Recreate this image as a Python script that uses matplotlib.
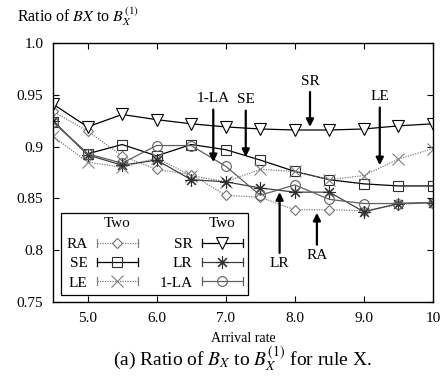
import numpy as np
import matplotlib
matplotlib.use('Agg')
from matplotlib import pyplot as plt
from matplotlib.lines import Line2D
from matplotlib.text import Text
from matplotlib.legend_handler import HandlerLine2D, HandlerBase

plt.rcParams['font.family'] = 'Liberation Serif'
plt.rcParams['mathtext.fontset'] = 'stix'

# arrival rates and ratio for each rule
rate = [4.5, 5.0, 5.5, 6.0, 6.5, 7.0, 7.5, 8.0, 8.5, 9.0, 9.5, 10.0]
ra  = [0.934, 0.915, 0.891, 0.878, 0.873, 0.853, 0.851, 0.839, 0.839, 0.838, 0.844, 0.846]
se  = [0.924, 0.893, 0.902, 0.891, 0.902, 0.897, 0.887, 0.876, 0.868, 0.864, 0.862, 0.862]
le  = [0.910, 0.885, 0.880, 0.889, 0.872, 0.866, 0.878, 0.876, 0.868, 0.872, 0.888, 0.898]
sr  = [0.941, 0.919, 0.931, 0.926, 0.922, 0.919, 0.917, 0.916, 0.916, 0.917, 0.920, 0.922]
lr  = [0.925, 0.892, 0.882, 0.887, 0.868, 0.866, 0.860, 0.856, 0.856, 0.837, 0.845, 0.846]
la1 = [0.924, 0.893, 0.884, 0.901, 0.901, 0.881, 0.853, 0.863, 0.849, 0.845, 0.845, 0.846]

xticks = [5.0, 6.0, 7.0, 8.0, 9.0, 10.0]
xticklabels = ['5.0', '6.0', '7.0', '8.0', '9.0', '10']
yticks = [0.75, 0.8, 0.85, 0.9, 0.95, 1.0]
yticklabels = ['0.75', '0.8', '0.85', '0.9', '0.95', '1.0']

# (label, text position, arrow tip)
notes = [('1-LA', (6.82, 0.946), (6.82, 0.885)),
         ('SE',   (7.29, 0.945), (7.29, 0.890)),
         ('SR',   (8.22, 0.963), (8.22, 0.919)),
         ('LE',   (9.23, 0.948), (9.23, 0.882)),
         ('LR',   (7.78, 0.787), (7.78, 0.856)),
         ('RA',   (8.32, 0.795), (8.32, 0.836))]


class CapHandler(HandlerLine2D):
    # legend line with small end caps, like an x error bar
    def create_artists(self, legend, orig_handle, xdescent, ydescent,
                       width, height, fontsize, trans):
        arts = super().create_artists(legend, orig_handle, xdescent, ydescent,
                                      width, height, fontsize, trans)
        y = height / 2 - ydescent
        for xx in (-xdescent, width - xdescent):
            cap = Line2D([xx, xx], [y - height * 0.35, y + height * 0.35],
                         color=orig_handle.get_color(), lw=0.9)
            cap.set_transform(trans)
            arts.append(cap)
        return arts


class Header(object):
    pass


class HeaderHandler(HandlerBase):
    def create_artists(self, legend, orig_handle, xdescent, ydescent,
                       width, height, fontsize, trans):
        t = Text(width / 2 - xdescent, height / 2 - ydescent, 'Two',
                 ha='center', va='center', fontsize=fontsize)
        t.set_transform(trans)
        return [t]


fig = plt.figure(figsize=(4.4, 3.76), dpi=100)
ax = fig.add_axes([0.1205, 0.197, 0.8635, 0.6886])

l_ra, = ax.plot(rate, ra, color='#808080', ls=(0, (1, 1)), lw=0.9, marker='D',
                ms=5.5, mfc='white', mec='#707070', mew=0.8)
l_se, = ax.plot(rate, se, color='black', lw=0.9, marker='s',
                ms=7, mfc='none', mec='#303030', mew=0.8)
l_le, = ax.plot(rate, le, color='#808080', ls=(0, (1, 1)), lw=0.9, marker='x',
                ms=8, mec='#808080', mew=0.8)
l_sr, = ax.plot(rate, sr, color='black', lw=0.9, marker='v',
                ms=9, mfc='white', mec='black', mew=0.8)
l_lr, = ax.plot(rate, lr, color='#404040', lw=0.9, marker=(8, 2, 0),
                ms=9, mec='#303030', mew=0.8)
l_la, = ax.plot(rate, la1, color='#606060', lw=0.9, marker='o',
                ms=7, mfc='none', mec='#606060', mew=0.8)

for txt, xy_t, xy_a in notes:
    ax.annotate(txt, xy=xy_a, xytext=xy_t, ha='center', va='center', fontsize=11,
                arrowprops=dict(arrowstyle='-|>', color='black', lw=1.6,
                                mutation_scale=11, shrinkA=1, shrinkB=0))

ax.set_xlim(4.5, 10.0)
ax.set_ylim(0.75, 1.0)
ax.set_xticks(xticks)
ax.set_xticklabels(xticklabels)
ax.set_yticks(yticks)
ax.set_yticklabels(yticklabels)
ax.tick_params(direction='in', top=True, right=True, labelsize=11,
               length=4, width=0.8, pad=7)
for s in ax.spines.values():
    s.set_linewidth(1.0)

h1, h2 = Header(), Header()
handles = [h1, l_ra, l_se, l_le, h2, l_sr, l_lr, l_la]
labels = ['', 'RA', 'SE', 'LE', '', 'SR', 'LR', '1-LA']
hmap = {Header: HeaderHandler()}
for l in (l_ra, l_se, l_le, l_sr, l_lr, l_la):
    hmap[l] = CapHandler()
leg = ax.legend(handles, labels, handler_map=hmap, ncol=2, markerfirst=False,
                loc='lower left', bbox_to_anchor=(0.021, 0.027), borderaxespad=0,
                fontsize=11, handlelength=2.7, handletextpad=0.6,
                columnspacing=1.4, labelspacing=0.36, borderpad=0.35,
                fancybox=False, framealpha=1, edgecolor='black')
leg.get_frame().set_linewidth(0.9)

fig.text(17 / 440, 1 - 17 / 376, r'Ratio of $BX$ to $B_X^{(1)}$', fontsize=11.5,
         ha='left', va='center')
fig.text(243 / 440, 1 - 338 / 376, 'Arrival rate', fontsize=10,
         ha='center', va='center')
fig.text(242 / 440, 1 - 359 / 376, r'(a) Ratio of $B_X$ to $B_X^{(1)}$ for rule X.',
         fontsize=14, ha='center', va='center')

fig.savefig('out.png', dpi=100)
